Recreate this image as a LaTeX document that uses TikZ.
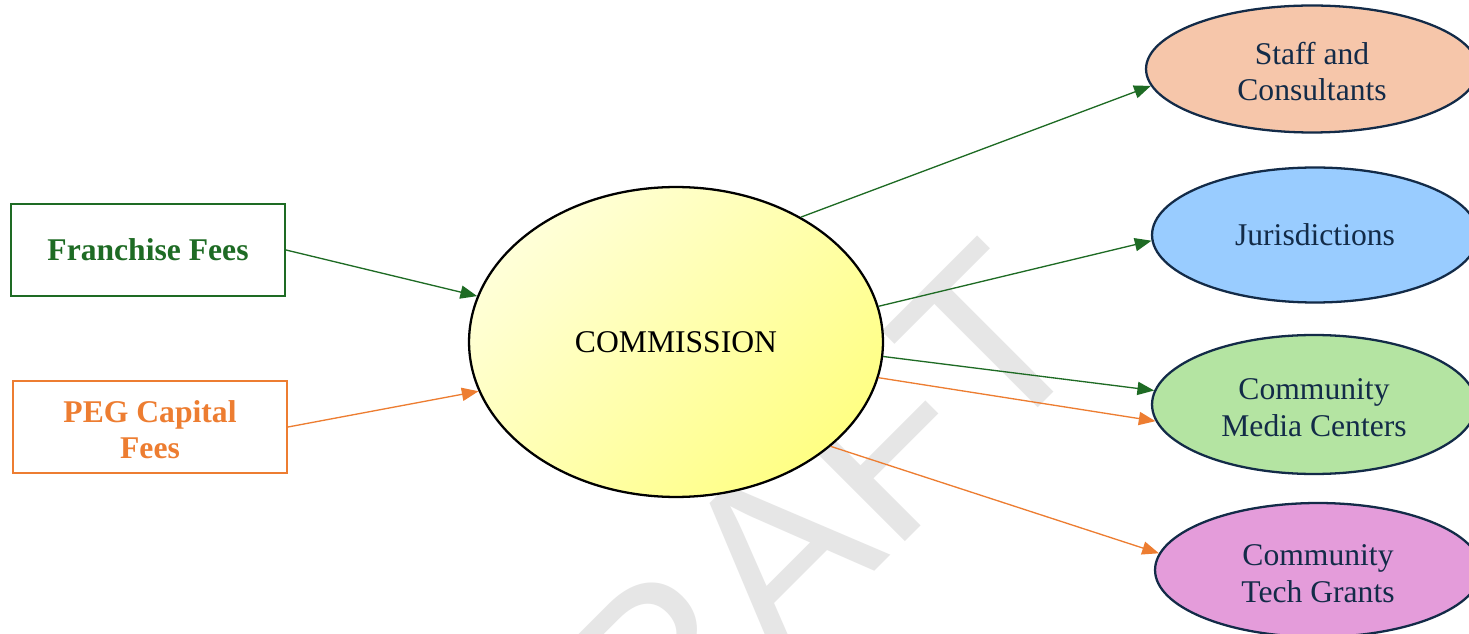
\documentclass[tikz,border=0pt]{standalone}
\usepackage{fontspec}
\setmainfont{Liberation Serif}
\newfontfamily\wmfont{Liberation Sans}
\usetikzlibrary{arrows.meta,shapes.geometric}
\definecolor{fgreen}{HTML}{1E6B24}
\definecolor{forange}{HTML}{ED7D31}
\definecolor{navyline}{HTML}{132B48}
\definecolor{lightyel}{HTML}{FFFFD8}
\definecolor{deepyel}{HTML}{FFFF84}
\definecolor{peach}{HTML}{F6C6AA}
\definecolor{skyblue}{HTML}{99CCFF}
\definecolor{mint}{HTML}{B4E4A2}
\definecolor{orchid}{HTML}{E49CDA}
\definecolor{wmgray}{HTML}{E6E6E6}
\newcommand\mytopstrut{\rule{0pt}{15.8pt}}
\tikzset{
  txt/.style={font=\fontsize{18}{20.8}\selectfont, align=center},
  srcbox/.style={txt, draw, line width=1.2pt, minimum width=5.48cm, minimum height=1.84cm, inner sep=0pt, font=\fontsize{18}{20.8}\selectfont\bfseries},
  dest/.style={txt, ellipse, draw=navyline, line width=1.3pt, text=navyline, inner sep=0pt},
  flow/.style={line width=0.75pt, -{Triangle[length=9.5pt,width=7.5pt]}},
}
\begin{document}
\begin{tikzpicture}[x=0.02cm,y=-0.02cm]
\useasboundingbox (0,0) rectangle (1469,634);
\fill[white] (0,0) rectangle (1469,634);
% watermark
\node[rotate=45, text=wmgray, inner sep=0pt, font=\wmfont\fontsize{136}{136}\selectfont] (wm) at (758,572) {DRAFT};
% sources
\node[srcbox, draw=fgreen, text=fgreen] (fr) at (148,250) {Franchise Fees};
\node[srcbox, draw=forange, text=forange] (peg) at (150,427) {\mytopstrut PEG Capital\\Fees};
% commission
\node[txt, ellipse, draw=black, line width=1.3pt, top color=lightyel, bottom color=deepyel, shading angle=45, minimum width=8.28cm, minimum height=6.2cm, inner sep=0pt] (comm) at (676,342) {COMMISSION};
% destinations
\node[dest, fill=peach, minimum width=6.64cm, minimum height=2.54cm] (staff) at (1312,69) {\mytopstrut Staff and\\Consultants};
\node[dest, fill=skyblue, minimum width=6.52cm, minimum height=2.7cm] (jur) at (1315,235) {Jurisdictions};
\node[dest, fill=mint, minimum width=6.48cm, minimum height=2.78cm] (media) at (1314,404.5) {\mytopstrut Community\\Media Centers};
\node[dest, fill=orchid, minimum width=6.52cm, minimum height=2.68cm] (tech) at (1318,570) {\mytopstrut Community\\Tech Grants};
% flows
\draw[flow, fgreen] (fr.east) -- (comm.167);
\draw[flow, forange] (peg.east) -- (comm.194);
\draw[flow, fgreen] (comm.45) -- (staff.186);
\draw[flow, fgreen] (comm.10) -- (jur.182.5);
\draw[flow, fgreen] (comm.-4) -- (media.175);
\draw[flow, forange] (comm.-10) -- (media.186);
\draw[flow, forange] (comm.-34) -- (tech.174);
\end{tikzpicture}
\end{document}
